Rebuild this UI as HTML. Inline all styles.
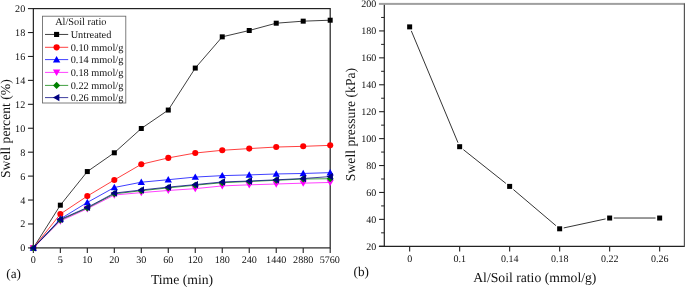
<!DOCTYPE html>
<html><head><meta charset="utf-8"><title>Swell charts</title>
<style>
html,body{margin:0;padding:0;background:#fff;}
body{width:685px;height:287px;overflow:hidden;position:relative;font-family:"Liberation Serif",serif;}
svg{will-change:transform;}
svg text{font-family:"Liberation Serif",serif;fill:#111;text-rendering:geometricPrecision;}
.t{font-size:10.15px;}
.r{font-size:10px;}
.l{font-size:10.3px;}
.a{font-size:13.7px;}
</style></head><body>
<svg width="685" height="287" viewBox="0 0 685 287" style="position:absolute;left:0;top:0">
<rect width="685" height="287" fill="#fff"/>
<rect x="33.35" y="8.6" width="296.84999999999997" height="239.3" fill="none" stroke="#222" stroke-width="1.2"/>
<line x1="27.950000000000003" y1="247.90" x2="33.35" y2="247.90" stroke="#222" stroke-width="1.1"/>
<text x="25.2" y="251.40" text-anchor="end" class="t">0</text>
<line x1="27.950000000000003" y1="223.97" x2="33.35" y2="223.97" stroke="#222" stroke-width="1.1"/>
<text x="25.2" y="227.47" text-anchor="end" class="t">2</text>
<line x1="27.950000000000003" y1="200.04" x2="33.35" y2="200.04" stroke="#222" stroke-width="1.1"/>
<text x="25.2" y="203.54" text-anchor="end" class="t">4</text>
<line x1="27.950000000000003" y1="176.11" x2="33.35" y2="176.11" stroke="#222" stroke-width="1.1"/>
<text x="25.2" y="179.61" text-anchor="end" class="t">6</text>
<line x1="27.950000000000003" y1="152.18" x2="33.35" y2="152.18" stroke="#222" stroke-width="1.1"/>
<text x="25.2" y="155.68" text-anchor="end" class="t">8</text>
<line x1="27.950000000000003" y1="128.25" x2="33.35" y2="128.25" stroke="#222" stroke-width="1.1"/>
<text x="25.2" y="131.75" text-anchor="end" class="t">10</text>
<line x1="27.950000000000003" y1="104.32" x2="33.35" y2="104.32" stroke="#222" stroke-width="1.1"/>
<text x="25.2" y="107.82" text-anchor="end" class="t">12</text>
<line x1="27.950000000000003" y1="80.39" x2="33.35" y2="80.39" stroke="#222" stroke-width="1.1"/>
<text x="25.2" y="83.89" text-anchor="end" class="t">14</text>
<line x1="27.950000000000003" y1="56.46" x2="33.35" y2="56.46" stroke="#222" stroke-width="1.1"/>
<text x="25.2" y="59.96" text-anchor="end" class="t">16</text>
<line x1="27.950000000000003" y1="32.53" x2="33.35" y2="32.53" stroke="#222" stroke-width="1.1"/>
<text x="25.2" y="36.03" text-anchor="end" class="t">18</text>
<line x1="27.950000000000003" y1="8.60" x2="33.35" y2="8.60" stroke="#222" stroke-width="1.1"/>
<text x="25.2" y="12.10" text-anchor="end" class="t">20</text>
<line x1="33.35" y1="247.9" x2="33.35" y2="253.1" stroke="#222" stroke-width="1.1"/>
<text x="33.35" y="263" text-anchor="middle" class="t">0</text>
<line x1="60.34" y1="247.9" x2="60.34" y2="253.1" stroke="#222" stroke-width="1.1"/>
<text x="60.34" y="263" text-anchor="middle" class="t">5</text>
<line x1="87.32" y1="247.9" x2="87.32" y2="253.1" stroke="#222" stroke-width="1.1"/>
<text x="87.32" y="263" text-anchor="middle" class="t">10</text>
<line x1="114.31" y1="247.9" x2="114.31" y2="253.1" stroke="#222" stroke-width="1.1"/>
<text x="114.31" y="263" text-anchor="middle" class="t">20</text>
<line x1="141.30" y1="247.9" x2="141.30" y2="253.1" stroke="#222" stroke-width="1.1"/>
<text x="141.30" y="263" text-anchor="middle" class="t">30</text>
<line x1="168.28" y1="247.9" x2="168.28" y2="253.1" stroke="#222" stroke-width="1.1"/>
<text x="168.28" y="263" text-anchor="middle" class="t">60</text>
<line x1="195.27" y1="247.9" x2="195.27" y2="253.1" stroke="#222" stroke-width="1.1"/>
<text x="195.27" y="263" text-anchor="middle" class="t">120</text>
<line x1="222.25" y1="247.9" x2="222.25" y2="253.1" stroke="#222" stroke-width="1.1"/>
<text x="222.25" y="263" text-anchor="middle" class="t">180</text>
<line x1="249.24" y1="247.9" x2="249.24" y2="253.1" stroke="#222" stroke-width="1.1"/>
<text x="249.24" y="263" text-anchor="middle" class="t">240</text>
<line x1="276.23" y1="247.9" x2="276.23" y2="253.1" stroke="#222" stroke-width="1.1"/>
<text x="276.23" y="263" text-anchor="middle" class="t">1440</text>
<line x1="303.21" y1="247.9" x2="303.21" y2="253.1" stroke="#222" stroke-width="1.1"/>
<text x="303.21" y="263" text-anchor="middle" class="t">2880</text>
<line x1="330.20" y1="247.9" x2="330.20" y2="253.1" stroke="#222" stroke-width="1.1"/>
<text x="329.80" y="263" text-anchor="middle" class="t">5760</text>
<polyline points="33.35,247.90 60.34,205.18 87.32,171.56 114.31,152.78 141.30,128.49 168.28,110.06 195.27,68.07 222.25,36.84 249.24,30.50 276.23,23.20 303.21,21.16 330.20,20.21" fill="none" stroke="#000000" stroke-width="0.75"/>
<rect x="30.85" y="245.40" width="5.00" height="5.00" fill="#000000"/>
<rect x="57.84" y="202.68" width="5.00" height="5.00" fill="#000000"/>
<rect x="84.82" y="169.06" width="5.00" height="5.00" fill="#000000"/>
<rect x="111.81" y="150.28" width="5.00" height="5.00" fill="#000000"/>
<rect x="138.80" y="125.99" width="5.00" height="5.00" fill="#000000"/>
<rect x="165.78" y="107.56" width="5.00" height="5.00" fill="#000000"/>
<rect x="192.77" y="65.57" width="5.00" height="5.00" fill="#000000"/>
<rect x="219.75" y="34.34" width="5.00" height="5.00" fill="#000000"/>
<rect x="246.74" y="28.00" width="5.00" height="5.00" fill="#000000"/>
<rect x="273.73" y="20.70" width="5.00" height="5.00" fill="#000000"/>
<rect x="300.71" y="18.66" width="5.00" height="5.00" fill="#000000"/>
<rect x="327.70" y="17.71" width="5.00" height="5.00" fill="#000000"/>
<polyline points="33.35,247.90 60.34,214.04 87.32,196.09 114.31,179.94 141.30,164.26 168.28,157.92 195.27,153.02 222.25,150.27 249.24,148.59 276.23,147.04 303.21,146.32 330.20,145.36" fill="none" stroke="#ff0000" stroke-width="0.75"/>
<circle cx="33.35" cy="247.90" r="3.05" fill="#ff0000"/>
<circle cx="60.34" cy="214.04" r="3.05" fill="#ff0000"/>
<circle cx="87.32" cy="196.09" r="3.05" fill="#ff0000"/>
<circle cx="114.31" cy="179.94" r="3.05" fill="#ff0000"/>
<circle cx="141.30" cy="164.26" r="3.05" fill="#ff0000"/>
<circle cx="168.28" cy="157.92" r="3.05" fill="#ff0000"/>
<circle cx="195.27" cy="153.02" r="3.05" fill="#ff0000"/>
<circle cx="222.25" cy="150.27" r="3.05" fill="#ff0000"/>
<circle cx="249.24" cy="148.59" r="3.05" fill="#ff0000"/>
<circle cx="276.23" cy="147.04" r="3.05" fill="#ff0000"/>
<circle cx="303.21" cy="146.32" r="3.05" fill="#ff0000"/>
<circle cx="330.20" cy="145.36" r="3.05" fill="#ff0000"/>
<polyline points="33.35,247.90 60.34,218.94 87.32,202.43 114.31,187.48 141.30,182.21 168.28,179.70 195.27,177.07 222.25,175.63 249.24,174.91 276.23,173.96 303.21,173.48 330.20,172.64" fill="none" stroke="#0000ff" stroke-width="0.75"/>
<path d="M33.35 244.25L37.00 250.64L29.70 250.64Z" fill="#0000ff"/>
<path d="M60.34 215.29L63.99 221.68L56.69 221.68Z" fill="#0000ff"/>
<path d="M87.32 198.78L90.97 205.17L83.67 205.17Z" fill="#0000ff"/>
<path d="M114.31 183.83L117.96 190.21L110.66 190.21Z" fill="#0000ff"/>
<path d="M141.30 178.56L144.95 184.95L137.65 184.95Z" fill="#0000ff"/>
<path d="M168.28 176.05L171.93 182.44L164.63 182.44Z" fill="#0000ff"/>
<path d="M195.27 173.42L198.92 179.80L191.62 179.80Z" fill="#0000ff"/>
<path d="M222.25 171.98L225.90 178.37L218.60 178.37Z" fill="#0000ff"/>
<path d="M249.24 171.26L252.89 177.65L245.59 177.65Z" fill="#0000ff"/>
<path d="M276.23 170.31L279.88 176.69L272.58 176.69Z" fill="#0000ff"/>
<path d="M303.21 169.83L306.86 176.22L299.56 176.22Z" fill="#0000ff"/>
<path d="M330.20 168.99L333.85 175.38L326.55 175.38Z" fill="#0000ff"/>
<polyline points="33.35,247.90 60.34,220.98 87.32,208.77 114.31,195.01 141.30,192.62 168.28,190.47 195.27,188.67 222.25,185.92 249.24,184.84 276.23,184.01 303.21,183.17 330.20,182.45" fill="none" stroke="#ff00ff" stroke-width="0.75"/>
<path d="M33.35 251.55L37.00 245.16L29.70 245.16Z" fill="#ff00ff"/>
<path d="M60.34 224.63L63.99 218.24L56.69 218.24Z" fill="#ff00ff"/>
<path d="M87.32 212.42L90.97 206.04L83.67 206.04Z" fill="#ff00ff"/>
<path d="M114.31 198.66L117.96 192.28L110.66 192.28Z" fill="#ff00ff"/>
<path d="M141.30 196.27L144.95 189.88L137.65 189.88Z" fill="#ff00ff"/>
<path d="M168.28 194.12L171.93 187.73L164.63 187.73Z" fill="#ff00ff"/>
<path d="M195.27 192.32L198.92 185.94L191.62 185.94Z" fill="#ff00ff"/>
<path d="M222.25 189.57L225.90 183.18L218.60 183.18Z" fill="#ff00ff"/>
<path d="M249.24 188.49L252.89 182.11L245.59 182.11Z" fill="#ff00ff"/>
<path d="M276.23 187.66L279.88 181.27L272.58 181.27Z" fill="#ff00ff"/>
<path d="M303.21 186.82L306.86 180.43L299.56 180.43Z" fill="#ff00ff"/>
<path d="M330.20 186.10L333.85 179.71L326.55 179.71Z" fill="#ff00ff"/>
<polyline points="33.35,247.90 60.34,220.02 87.32,208.06 114.31,193.82 141.30,190.71 168.28,187.84 195.27,185.20 222.25,182.69 249.24,181.49 276.23,180.30 303.21,178.98 330.20,178.74" fill="none" stroke="#008000" stroke-width="0.75"/>
<path d="M33.35 244.40L36.85 247.90L33.35 251.40L29.85 247.90Z" fill="#008000"/>
<path d="M60.34 216.52L63.84 220.02L60.34 223.52L56.84 220.02Z" fill="#008000"/>
<path d="M87.32 204.56L90.82 208.06L87.32 211.56L83.82 208.06Z" fill="#008000"/>
<path d="M114.31 190.32L117.81 193.82L114.31 197.32L110.81 193.82Z" fill="#008000"/>
<path d="M141.30 187.21L144.80 190.71L141.30 194.21L137.80 190.71Z" fill="#008000"/>
<path d="M168.28 184.34L171.78 187.84L168.28 191.34L164.78 187.84Z" fill="#008000"/>
<path d="M195.27 181.70L198.77 185.20L195.27 188.70L191.77 185.20Z" fill="#008000"/>
<path d="M222.25 179.19L225.75 182.69L222.25 186.19L218.75 182.69Z" fill="#008000"/>
<path d="M249.24 177.99L252.74 181.49L249.24 184.99L245.74 181.49Z" fill="#008000"/>
<path d="M276.23 176.80L279.73 180.30L276.23 183.80L272.73 180.30Z" fill="#008000"/>
<path d="M303.21 175.48L306.71 178.98L303.21 182.48L299.71 178.98Z" fill="#008000"/>
<path d="M330.20 175.24L333.70 178.74L330.20 182.24L326.70 178.74Z" fill="#008000"/>
<polyline points="33.35,247.90 60.34,219.42 87.32,207.46 114.31,193.10 141.30,189.99 168.28,187.12 195.27,184.61 222.25,181.97 249.24,181.02 276.23,179.82 303.21,178.50 330.20,176.59" fill="none" stroke="#000080" stroke-width="0.75"/>
<path d="M29.70 247.90L36.09 244.25L36.09 251.55Z" fill="#000080"/>
<path d="M56.69 219.42L63.07 215.77L63.07 223.07Z" fill="#000080"/>
<path d="M83.67 207.46L90.06 203.81L90.06 211.11Z" fill="#000080"/>
<path d="M110.66 193.10L117.05 189.45L117.05 196.75Z" fill="#000080"/>
<path d="M137.65 189.99L144.03 186.34L144.03 193.64Z" fill="#000080"/>
<path d="M164.63 187.12L171.02 183.47L171.02 190.77Z" fill="#000080"/>
<path d="M191.62 184.61L198.01 180.96L198.01 188.26Z" fill="#000080"/>
<path d="M218.60 181.97L224.99 178.32L224.99 185.62Z" fill="#000080"/>
<path d="M245.59 181.02L251.98 177.37L251.98 184.67Z" fill="#000080"/>
<path d="M272.58 179.82L278.96 176.17L278.96 183.47Z" fill="#000080"/>
<path d="M299.56 178.50L305.95 174.85L305.95 182.15Z" fill="#000080"/>
<path d="M326.55 176.59L332.94 172.94L332.94 180.24Z" fill="#000080"/>
<rect x="42.5" y="16.2" width="83.3" height="86.8" fill="#fff" stroke="#666" stroke-width="0.85"/>
<text x="80.8" y="25" text-anchor="middle" class="l">Al/Soil ratio</text>
<line x1="45" y1="34.45" x2="68.2" y2="34.45" stroke="#000000" stroke-width="0.75"/>
<rect x="54.05" y="31.90" width="5.10" height="5.10" fill="#000000"/>
<text x="70.7" y="37.90" class="l">Untreated</text>
<line x1="45" y1="47.3" x2="68.2" y2="47.3" stroke="#ff0000" stroke-width="0.75"/>
<circle cx="56.60" cy="47.30" r="3.11" fill="#ff0000"/>
<text x="70.7" y="50.75" class="l">0.10 mmol/g</text>
<line x1="45" y1="59.6" x2="68.2" y2="59.6" stroke="#0000ff" stroke-width="0.75"/>
<path d="M56.60 55.88L60.32 62.39L52.88 62.39Z" fill="#0000ff"/>
<text x="70.7" y="63.05" class="l">0.14 mmol/g</text>
<line x1="45" y1="72.4" x2="68.2" y2="72.4" stroke="#ff00ff" stroke-width="0.75"/>
<path d="M56.60 76.12L60.32 69.61L52.88 69.61Z" fill="#ff00ff"/>
<text x="70.7" y="75.85" class="l">0.18 mmol/g</text>
<line x1="45" y1="85.4" x2="68.2" y2="85.4" stroke="#008000" stroke-width="0.75"/>
<path d="M56.60 81.83L60.17 85.40L56.60 88.97L53.03 85.40Z" fill="#008000"/>
<text x="70.7" y="88.85" class="l">0.22 mmol/g</text>
<line x1="45" y1="97.6" x2="68.2" y2="97.6" stroke="#000080" stroke-width="0.75"/>
<path d="M52.88 97.60L59.39 93.88L59.39 101.32Z" fill="#000080"/>
<text x="70.7" y="101.05" class="l">0.26 mmol/g</text>
<text x="182" y="283.9" text-anchor="middle" class="a">Time (min)</text>
<text transform="translate(10.3,128.6) rotate(-90)" text-anchor="middle" class="a">Swell percent (%)</text>
<text x="6.3" y="278.2" class="a" style="font-size:13.2px">(a)</text>
<line x1="384.3" y1="4.0" x2="384.3" y2="246.9" stroke="#222" stroke-width="1.2"/>
<line x1="378.90000000000003" y1="246.3" x2="684.9" y2="246.3" stroke="#222" stroke-width="1.2"/>
<rect x="378.90000000000003" y="2.9" width="306.09999999999997" height="2" fill="#a0a0a0"/>
<rect x="683.8" y="3.5" width="1.2" height="243.3" fill="#555"/>
<line x1="379.1" y1="246.30" x2="384.3" y2="246.30" stroke="#222" stroke-width="1.1"/>
<text x="376.2" y="249.75" text-anchor="end" class="t r">20</text>
<line x1="381.1" y1="232.84" x2="384.3" y2="232.84" stroke="#222" stroke-width="1.0"/>
<line x1="379.1" y1="219.38" x2="384.3" y2="219.38" stroke="#222" stroke-width="1.1"/>
<text x="376.2" y="222.83" text-anchor="end" class="t r">40</text>
<line x1="381.1" y1="205.92" x2="384.3" y2="205.92" stroke="#222" stroke-width="1.0"/>
<line x1="379.1" y1="192.46" x2="384.3" y2="192.46" stroke="#222" stroke-width="1.1"/>
<text x="376.2" y="195.91" text-anchor="end" class="t r">60</text>
<line x1="381.1" y1="178.99" x2="384.3" y2="178.99" stroke="#222" stroke-width="1.0"/>
<line x1="379.1" y1="165.53" x2="384.3" y2="165.53" stroke="#222" stroke-width="1.1"/>
<text x="376.2" y="168.98" text-anchor="end" class="t r">80</text>
<line x1="381.1" y1="152.07" x2="384.3" y2="152.07" stroke="#222" stroke-width="1.0"/>
<line x1="379.1" y1="138.61" x2="384.3" y2="138.61" stroke="#222" stroke-width="1.1"/>
<text x="376.2" y="142.06" text-anchor="end" class="t r">100</text>
<line x1="381.1" y1="125.15" x2="384.3" y2="125.15" stroke="#222" stroke-width="1.0"/>
<line x1="379.1" y1="111.69" x2="384.3" y2="111.69" stroke="#222" stroke-width="1.1"/>
<text x="376.2" y="115.14" text-anchor="end" class="t r">120</text>
<line x1="381.1" y1="98.23" x2="384.3" y2="98.23" stroke="#222" stroke-width="1.0"/>
<line x1="379.1" y1="84.77" x2="384.3" y2="84.77" stroke="#222" stroke-width="1.1"/>
<text x="376.2" y="88.22" text-anchor="end" class="t r">140</text>
<line x1="381.1" y1="71.31" x2="384.3" y2="71.31" stroke="#222" stroke-width="1.0"/>
<line x1="379.1" y1="57.84" x2="384.3" y2="57.84" stroke="#222" stroke-width="1.1"/>
<text x="376.2" y="61.29" text-anchor="end" class="t r">160</text>
<line x1="381.1" y1="44.38" x2="384.3" y2="44.38" stroke="#222" stroke-width="1.0"/>
<line x1="379.1" y1="30.92" x2="384.3" y2="30.92" stroke="#222" stroke-width="1.1"/>
<text x="376.2" y="34.37" text-anchor="end" class="t r">180</text>
<line x1="381.1" y1="17.46" x2="384.3" y2="17.46" stroke="#222" stroke-width="1.0"/>
<text x="376.2" y="7.45" text-anchor="end" class="t r">200</text>
<line x1="409.65" y1="246.3" x2="409.65" y2="251.5" stroke="#222" stroke-width="1.1"/>
<text x="409.65" y="261.9" text-anchor="middle" class="t r">0</text>
<line x1="459.65" y1="246.3" x2="459.65" y2="251.5" stroke="#222" stroke-width="1.1"/>
<text x="459.65" y="261.9" text-anchor="middle" class="t r">0.1</text>
<line x1="509.65" y1="246.3" x2="509.65" y2="251.5" stroke="#222" stroke-width="1.1"/>
<text x="509.65" y="261.9" text-anchor="middle" class="t r">0.14</text>
<line x1="559.65" y1="246.3" x2="559.65" y2="251.5" stroke="#222" stroke-width="1.1"/>
<text x="559.65" y="261.9" text-anchor="middle" class="t r">0.18</text>
<line x1="609.65" y1="246.3" x2="609.65" y2="251.5" stroke="#222" stroke-width="1.1"/>
<text x="609.65" y="261.9" text-anchor="middle" class="t r">0.22</text>
<line x1="659.65" y1="246.3" x2="659.65" y2="251.5" stroke="#222" stroke-width="1.1"/>
<text x="659.65" y="261.9" text-anchor="middle" class="t r">0.26</text>
<line x1="411.31" y1="30.86" x2="457.99" y2="142.71" stroke="#111" stroke-width="0.85"/>
<line x1="463.40" y1="149.67" x2="505.90" y2="183.42" stroke="#111" stroke-width="0.85"/>
<line x1="513.37" y1="189.55" x2="555.93" y2="225.65" stroke="#111" stroke-width="0.85"/>
<line x1="563.71" y1="227.93" x2="605.59" y2="218.91" stroke="#111" stroke-width="0.85"/>
<line x1="613.75" y1="218.03" x2="655.55" y2="218.03" stroke="#111" stroke-width="0.85"/>
<rect x="407.15" y="24.38" width="5.00" height="5.00" fill="#000"/>
<rect x="457.15" y="144.19" width="5.00" height="5.00" fill="#000"/>
<rect x="507.15" y="183.90" width="5.00" height="5.00" fill="#000"/>
<rect x="557.15" y="226.30" width="5.00" height="5.00" fill="#000"/>
<rect x="607.15" y="215.53" width="5.00" height="5.00" fill="#000"/>
<rect x="657.15" y="215.53" width="5.00" height="5.00" fill="#000"/>
<text x="534.8" y="282.2" text-anchor="middle" class="a">Al/Soil ratio (mmol/g)</text>
<text transform="translate(355.3,124.5) rotate(-90)" text-anchor="middle" class="a">Swell pressure (kPa)</text>
<text x="353.5" y="275.9" class="a" style="font-size:13.2px">(b)</text>
</svg>
</body></html>
